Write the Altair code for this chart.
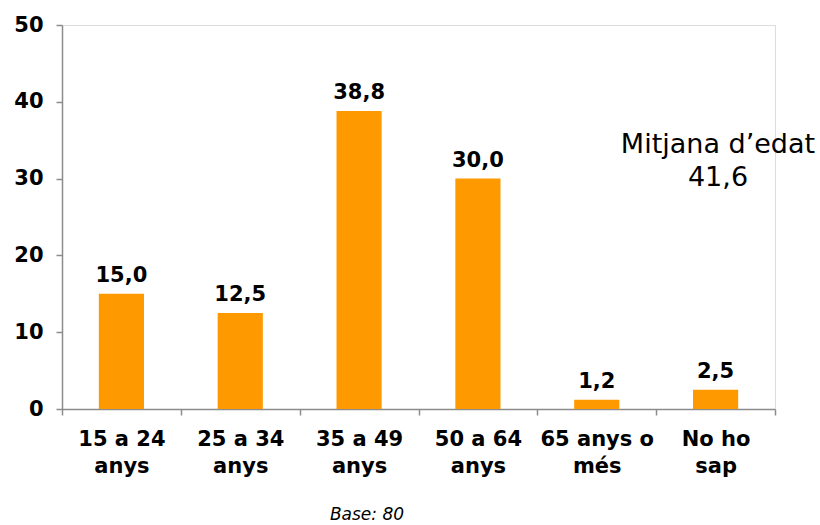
import altair as alt
import pandas as pd

categories = ["15 a 24|anys", "25 a 34|anys", "35 a 49|anys", "50 a 64|anys", "65 anys o|més", "No ho|sap"]
values = [15.0, 12.5, 38.8, 30.0, 1.2, 2.5]
annotation_lines = ["Mitjana d\u2019edat", "41,6"]
base_note = "Base: 80"

df = pd.DataFrame({"cat": categories, "value": values})

FONT = "DejaVu Sans"
ORANGE = "#FF9900"
GREY = "#8C8C8C"

x_enc = alt.X(
    "cat:N",
    sort=categories,
    scale=alt.Scale(paddingInner=0, paddingOuter=0),
    axis=alt.Axis(
        title=None,
        labelAngle=0,
        labelExpr="split(datum.label, '|')",
        labelFont=FONT,
        labelFontSize=21,
        labelFontWeight="bold",
        labelColor="black",
        labelPadding=13,
        labelLineHeight=27,
        labelBaseline="top",
        tickBand="extent",
        tickSize=6,
        tickColor=GREY,
        domainColor=GREY,
        domainWidth=1.5,
        tickWidth=1.5,
        grid=False,
    ),
)

y_enc = alt.Y(
    "value:Q",
    scale=alt.Scale(domain=[0, 50]),
    axis=alt.Axis(
        title=None,
        values=[0, 10, 20, 30, 40, 50],
        labelFont=FONT,
        labelFontSize=21,
        labelFontWeight="bold",
        labelColor="black",
        labelPadding=13,
        tickSize=6,
        tickColor=GREY,
        domainColor=GREY,
        domainWidth=1.5,
        tickWidth=1.5,
        grid=False,
    ),
)

bars = alt.Chart(df).mark_bar(color=ORANGE, width=alt.RelativeBandSize(0.38)).encode(x=x_enc, y=y_enc)

labels = alt.Chart(df).transform_calculate(
    lbl="replace(format(datum.value, '.1f'), '.', ',')"
).mark_text(
    font=FONT, fontSize=21, fontWeight="bold", color="black", baseline="bottom", dy=-8
).encode(x=alt.X("cat:N", sort=categories), y="value:Q", text="lbl:N")

ann_df = pd.DataFrame({"t": [annotation_lines]})
annotation = alt.Chart(ann_df).mark_text(
    font=FONT, fontSize=27, color="black", align="center", baseline="middle", lineHeight=33
).encode(x=alt.value(656), y=alt.value(120), text="t")

base_df = pd.DataFrame({"t": [base_note]})
base = alt.Chart(base_df).mark_text(
    font=FONT, fontSize=17, fontStyle="italic", color="black", align="center", baseline="middle"
).encode(x=alt.value(305), y=alt.value(490), text="t:N")

chart = alt.layer(bars, labels, annotation, base).properties(
    width=713,
    height=384,
    autosize=alt.AutoSizeParams(type="none"),
    padding={"left": 62, "top": 25, "right": 45, "bottom": 116},
).configure_view(stroke=None).configure(background="white")

chart.save("out.html", embed_options={"renderer": "svg", "actions": False})
